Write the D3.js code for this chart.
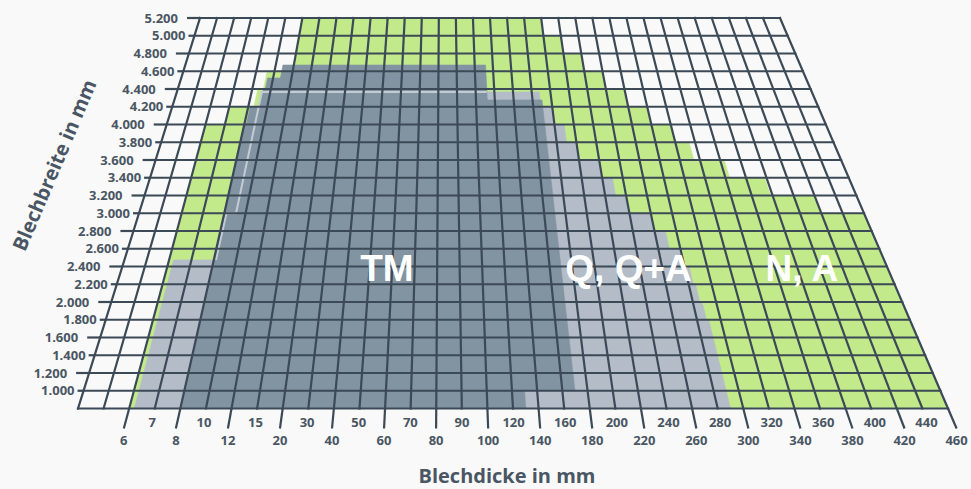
<!DOCTYPE html>
<html>
<head>
<meta charset="utf-8">
<script src="https://d3js.org/d3.v7.min.js"></script>
<style>
  body { margin: 0; background: #f9f9f9; }
  svg { display: block; }
</style>
</head>
<body>
<svg id="chart" width="971" height="489"></svg>
<script>
// thickness tick labels (mm), one per vertical grid line from the third line on
const thickness = [6, 7, 8, 10, 12, 15, 20, 30, 40, 50, 60, 70, 80, 90, 100, 120, 140, 160,
  180, 200, 220, 240, 260, 280, 300, 320, 340, 360, 380, 400, 420, 440, 460];
// width tick labels (mm), one per horizontal grid line from the top
const widths = [5200, 5000, 4800, 4600, 4400, 4200, 4000, 3800, 3600, 3400, 3200, 3000,
  2800, 2600, 2400, 2200, 2000, 1800, 1600, 1400, 1200, 1000];

// regions: [width from, width to, thickness from, thickness to]
const regionNA = [
  [5200, 5000, 12, 180], [5000, 4800, 12, 200], [4800, 4600, 12, 220],
  [4600, 4400, 9.2, 240], [4400, 4200, 8.6, 260], [4200, 4000, 7, 280],
  [4000, 3800, 6, 300], [3800, 3600, 6, 314], [3600, 3400, 6, 344],
  [3400, 3200, 6, 378], [3200, 3000, 6, 420], [3000, 800, 6, 460]
];
const regionQ = [
  [4366, 4276, 112, 168], [4276, 4200, 100, 168], [4200, 4000, 100, 180],
  [4000, 3800, 100, 190], [3800, 3600, 100, 200], [3600, 3400, 100, 220],
  [3400, 3200, 100, 230], [3200, 3000, 100, 240], [3000, 2800, 100, 260],
  [2800, 2600, 100, 270], [2600, 2474, 100, 280], [2474, 2400, 6.2, 280],
  [2400, 2200, 6.2, 284], [2200, 2000, 6.2, 286], [2000, 1800, 6.2, 288],
  [1800, 800, 6.2, 290]
];
const regionTM = [
  [4670, 4524, 10.8, 112], [4524, 4400, 9.4, 112], [4400, 4276, 9.2, 112],
  [4276, 4200, 9.2, 170], [4200, 4000, 8.2, 170], [4000, 1000, 8, 170],
  [1000, 800, 8, 130]
];
// light outline inside TM: [thickness, width]
const outlineTM = [[112, 4366], [9.1, 4366], [9.1, 3000], [8.2, 3000], [8.2, 2474]];
// region captions: [text, thickness, width]
const captions = [["TM", 58, 2240], ["Q, Q+A", 228, 2240], ["N, A", 380, 2240]];

const svg = d3.select("#chart");
const nCols = 34, nRows = 22;
const gridTop = 18, gridBottom = 408.5;

const rowY = d3.scaleLinear().domain([0, nRows]).range([gridTop, gridBottom]);
const leftX = d3.scaleLinear().domain([gridTop, gridBottom]).range([200, 78]);
const rightX = d3.scaleLinear().domain([gridTop, gridBottom]).range([780, 948]);
const colOf = d3.scaleLinear().domain(thickness).range(d3.range(2, nCols + 1));
const rowOf = d3.scaleLinear().domain([5200, 1000]).range([0, 21]);

function pt(col, row) {
  const y = rowY(row);
  const l = leftX(y), r = rightX(y);
  return [l + (r - l) * col / nCols, y];
}
const fmt = d3.formatLocale({ decimal: ",", thousands: ".", grouping: [3], currency: ["", "€"] }).format(",");

function slicePath(d) {
  const c0 = colOf(d[2]), c1 = colOf(d[3]);
  const r0 = rowOf(d[0]), r1 = rowOf(d[1]);
  return "M" + [pt(c0, r0), pt(c1, r0), pt(c1, r1), pt(c0, r1)].join("L") + "Z";
}

function drawRegion(data, color) {
  svg.append("g").selectAll("path")
    .data(data)
    .join("path")
      .attr("d", slicePath)
      .attr("fill", color)
      .attr("stroke", color)
      .attr("stroke-width", 0.6);
}
drawRegion(regionNA, "#c2ea8b");
drawRegion(regionQ, "#b4bdc7");
drawRegion(regionTM, "#8294a2");

// outline
svg.append("path")
  .attr("d", d3.line()(outlineTM.map(d => pt(colOf(d[0]), rowOf(d[1])))))
  .attr("fill", "none")
  .attr("stroke", "#c4cbd2")
  .attr("stroke-width", 2);

const lineColor = "#3c4956";
const grid = svg.append("g").attr("stroke", lineColor).attr("stroke-width", 2.2).attr("stroke-linecap", "square");
grid.selectAll(".h").data(d3.range(nRows + 1)).join("line")
  .attr("x1", i => pt(0, i)[0]).attr("y1", i => pt(0, i)[1])
  .attr("x2", i => pt(nCols, i)[0]).attr("y2", i => pt(nCols, i)[1]);
grid.selectAll(".v").data(d3.range(nCols + 1)).join("line")
  .attr("x1", j => pt(j, 0)[0]).attr("y1", j => pt(j, 0)[1])
  .attr("x2", j => pt(j, nRows)[0]).attr("y2", j => pt(j, nRows)[1]);

// y axis ticks + labels
const textColor = "#4a5663";
const yAxis = svg.append("g");
widths.forEach((w, k) => {
  const p = pt(0, rowOf(w));
  const len = k % 2 === 0 ? 13 : 6;
  yAxis.append("line")
    .attr("x1", p[0] - len).attr("x2", p[0]).attr("y1", p[1]).attr("y2", p[1])
    .attr("stroke", lineColor).attr("stroke-width", 2.2);
  yAxis.append("text")
    .attr("x", p[0] - (k % 2 === 0 ? 22 : 9))
    .attr("y", p[1])
    .attr("dy", "0.36em")
    .attr("text-anchor", "end")
    .attr("font-family", "Open Sans")
    .attr("font-weight", 700)
    .attr("font-size", 13)
    .attr("fill", textColor)
    .text(fmt(w));
});

// x axis ticks + labels
const xAxis = svg.append("g");
thickness.forEach((t, k) => {
  const j = colOf(t);
  const b = pt(j, nRows), a = pt(j, 0);
  const slope = (b[0] - a[0]) / (b[1] - a[1]);
  const even = k % 2 === 0;
  if (even) {
    xAxis.append("line")
      .attr("x1", b[0]).attr("y1", b[1])
      .attr("x2", b[0] + slope * 20).attr("y2", b[1] + 20)
      .attr("stroke", lineColor).attr("stroke-width", 2.2);
  }
  xAxis.append("text")
    .attr("x", b[0] + slope * (even ? 20 : 10))
    .attr("y", b[1] + (even ? 32 : 14))
    .attr("dy", "0.36em")
    .attr("text-anchor", "middle")
    .attr("font-family", "Open Sans")
    .attr("font-weight", 700)
    .attr("font-size", 13)
    .attr("fill", textColor)
    .text(t);
});

// captions
svg.append("g").selectAll("text")
  .data(captions)
  .join("text")
    .attr("x", d => pt(colOf(d[1]), rowOf(d[2]))[0])
    .attr("y", d => pt(colOf(d[1]), rowOf(d[2]))[1])
    .attr("text-anchor", "middle")
    .attr("font-family", "Liberation Sans, Arial, sans-serif")
    .attr("font-weight", 700)
    .attr("font-size", 37)
    .attr("fill", "#ffffff")
    .text(d => d[0]);

// axis titles
svg.append("text")
  .attr("x", 507).attr("y", 483)
  .attr("text-anchor", "middle")
  .attr("font-family", "Open Sans")
  .attr("font-weight", 700)
  .attr("font-size", 20)
  .attr("fill", textColor)
  .text("Blechdicke in mm");
svg.append("text")
  .attr("transform", "translate(61,168) rotate(-67)")
  .attr("text-anchor", "middle")
  .attr("font-family", "Open Sans")
  .attr("font-weight", 700)
  .attr("font-size", 20)
  .attr("fill", textColor)
  .text("Blechbreite in mm");
</script>
</body>
</html>
